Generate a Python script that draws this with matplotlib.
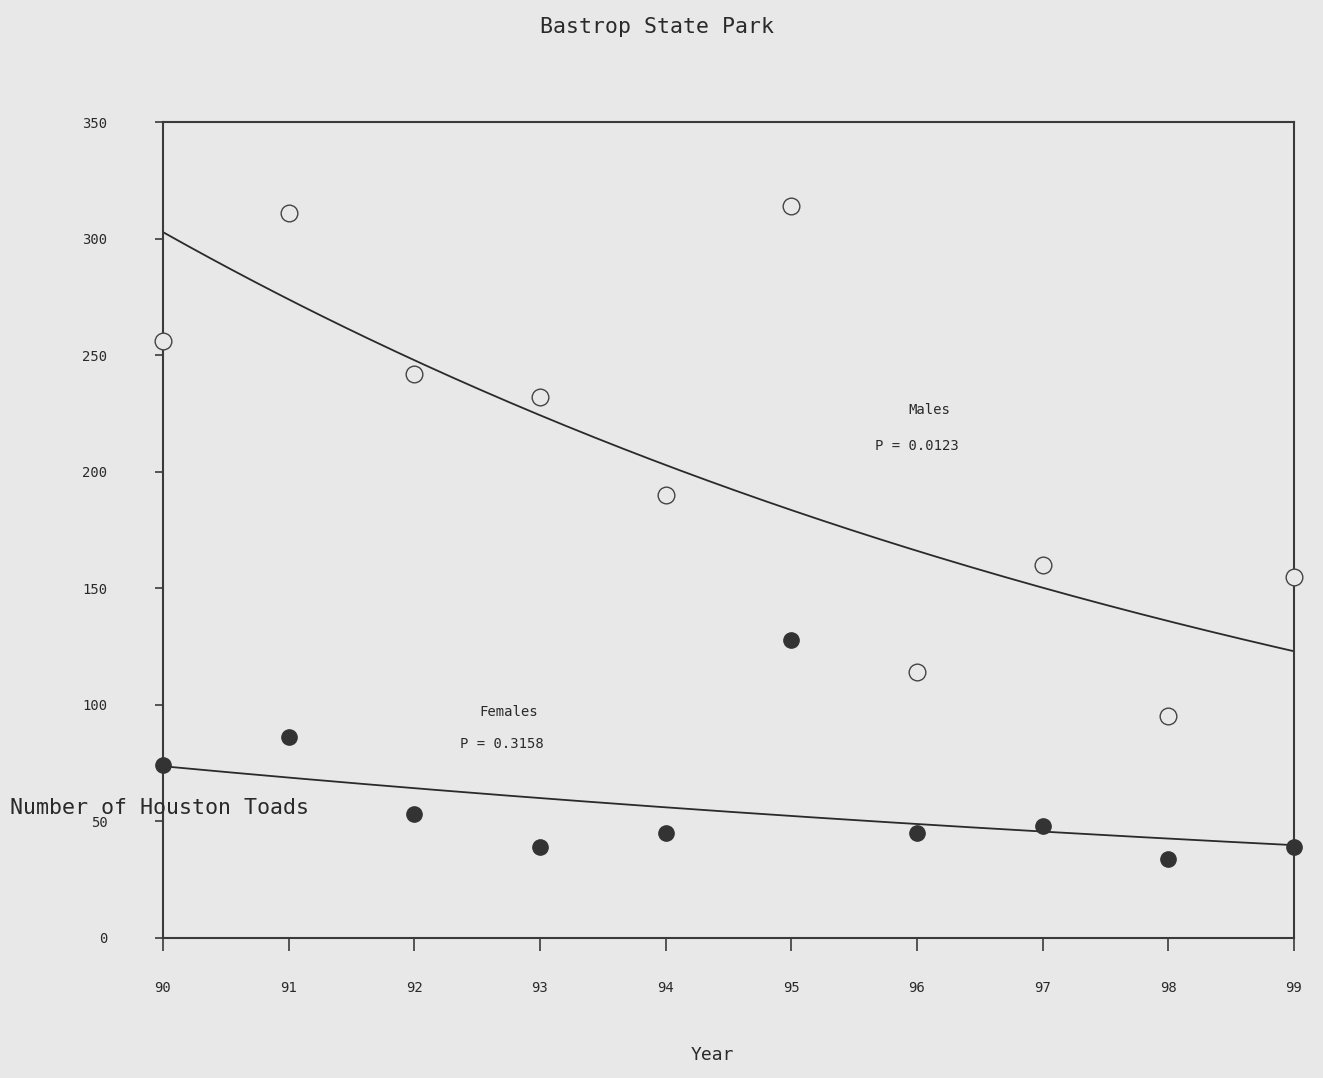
import numpy as np
import matplotlib
matplotlib.use("Agg")
import matplotlib.pyplot as plt

# survey years (19xx) and counts
years = [90, 91, 92, 93, 94, 95, 96, 97, 98, 99]
year_labels = ["90", "91", "92", "93", "94", "95", "96", "97", "98", "99"]
males = [256, 311, 242, 232, 190, 314, 114, 160, 95, 155]
females = [74, 86, 53, 39, 45, 128, 45, 48, 34, 39]
y_ticks = [0, 50, 100, 150, 200, 250, 300, 350]

bg = "#e8e8e8"
ink = "#2a2a2a"
mono = "DejaVu Sans Mono"

fig = plt.figure(figsize=(13.23, 10.78), dpi=100, facecolor=bg)
ax = fig.add_axes([0.1232, 0.1299, 0.8548, 0.7569])
ax.set_facecolor(bg)

# exponential trend fitted on log counts
t = np.array(years, dtype=float)
tt = np.linspace(years[0], years[-1], 200)
for counts in (males, females):
    slope, icpt = np.polyfit(t - t[0], np.log(counts), 1)
    ax.plot(tt, np.exp(icpt + slope * (tt - t[0])), color=ink, lw=1.3, zorder=2)

ax.plot(years, males, "o", ms=12, mfc=bg, mec="#444444", mew=1.0,
        clip_on=False, zorder=3)
ax.plot(years, females, "o", ms=11, mfc="#333333", mec="#333333",
        clip_on=False, zorder=3)

ax.set_xlim(90, 99)
ax.set_ylim(0, 350)
ax.set_xticks(years)
ax.set_xticklabels(year_labels)
ax.set_yticks(y_ticks)

for sp in ax.spines.values():
    sp.set_color("#3a3a3a")
    sp.set_linewidth(1.5)

ax.tick_params(axis="x", direction="out", length=9, width=1.2, colors="#3a3a3a",
               pad=22, labelsize=10, labelcolor=ink)
ax.tick_params(axis="y", direction="out", length=6, width=1.2, colors="#3a3a3a",
               pad=34, labelsize=10, labelcolor=ink)
for lab in ax.get_xticklabels() + ax.get_yticklabels():
    lab.set_family(mono)

# annotations
ax.text(96.1, 226.5, "Males", family=mono, fontsize=10, color=ink,
        ha="center", va="center")
ax.text(96.0, 211, "P = 0.0123", family=mono, fontsize=10, color=ink,
        ha="center", va="center")
ax.text(92.75, 97, "Females", family=mono, fontsize=10, color=ink,
        ha="center", va="center")
ax.text(92.7, 83, "P = 0.3158", family=mono, fontsize=10, color=ink,
        ha="center", va="center")

fig.text(657 / 1323, 1 - 27 / 1078, "Bastrop State Park", family=mono,
         fontsize=15.5, color=ink, ha="center", va="center")
fig.text(712 / 1323, 1 - 1055 / 1078, "Year", family=mono,
         fontsize=13, color=ink, ha="center", va="center")
fig.text(10 / 1323, 1 - 808 / 1078, "Number of Houston Toads", family=mono,
         fontsize=15.6, color=ink, ha="left", va="center", zorder=5)

fig.savefig("out.png", dpi=100, facecolor=bg)
